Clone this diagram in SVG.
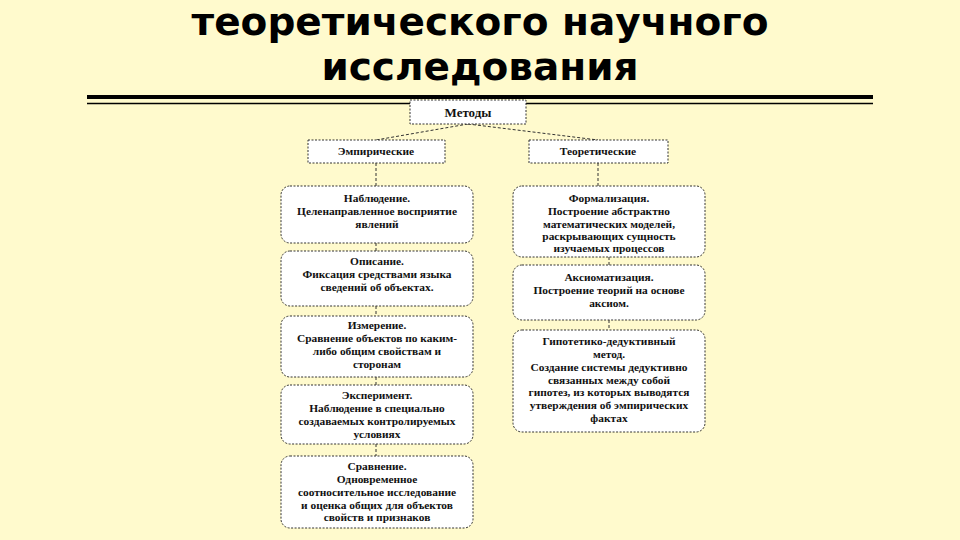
<svg xmlns="http://www.w3.org/2000/svg" width="960" height="540" viewBox="0 0 960 540">
<style>
.title{font-family:"DejaVu Sans",Verdana,sans-serif;font-weight:bold;font-size:39px;fill:#000;text-anchor:middle}
.t{font-family:"Liberation Serif","Times New Roman",serif;font-weight:bold;font-size:11.4px;fill:#111;text-anchor:middle}
.box{fill:#fff;stroke:#333;stroke-width:1;stroke-dasharray:2 1.5}
.rbox{fill:#fff;stroke:#333;stroke-width:1;stroke-dasharray:2 1.5}
.conn{stroke:#333;stroke-width:1;stroke-dasharray:3 2;fill:none}
</style>
<rect width="960" height="540" fill="#FFFACD"/>
<text class="title" x="480" y="35">теоретического научного</text>
<text class="title" x="480" y="80">исследования</text>
<line x1="87" y1="97" x2="873" y2="97" stroke="#000" stroke-width="4"/>
<line x1="87" y1="103.5" x2="873" y2="103.5" stroke="#000" stroke-width="1.5"/>
<g id="connectors">
<path class="conn" d="M468 124 L376 140"/>
<path class="conn" d="M468 124 L598 140"/>
<path class="conn" d="M376 163 V186"/>
<path class="conn" d="M598 163 V186"/>
<path class="conn" d="M376 243 V251"/>
<path class="conn" d="M376 306 V316"/>
<path class="conn" d="M376 377 V385"/>
<path class="conn" d="M376 444 V456"/>
<path class="conn" d="M609 257 V265"/>
<path class="conn" d="M609 320 V330"/>
</g>
<g id="metody">
<rect class="box" x="410" y="100" width="116" height="24"/>
<text class="t" x="468" y="116.5" style="font-size:13px">Методы</text>
</g>
<g id="empiricheskie">
<rect class="box" x="308" y="140" width="137" height="23"/>
<text class="t" x="376" y="155">Эмпирические</text>
</g>
<g id="teoreticheskie">
<rect class="box" x="529" y="140" width="139" height="23"/>
<text class="t" x="598" y="155">Теоретические</text>
</g>
<g id="nabludenie">
<rect class="rbox" x="281" y="186" width="192" height="57" rx="9"/>
<text class="t" x="377" y="202">Наблюдение.</text>
<text class="t" x="377" y="215">Целенаправленное восприятие</text>
<text class="t" x="377" y="228">явлений</text>
</g>
<g id="opisanie">
<rect class="rbox" x="281" y="251" width="192" height="55" rx="9"/>
<text class="t" x="377" y="265">Описание.</text>
<text class="t" x="377" y="278">Фиксация средствами языка</text>
<text class="t" x="377" y="291">сведений об объектах.</text>
</g>
<g id="izmerenie">
<rect class="rbox" x="281" y="316" width="192" height="61" rx="9"/>
<text class="t" x="377" y="329">Измерение.</text>
<text class="t" x="377" y="342">Сравнение объектов по каким-</text>
<text class="t" x="377" y="355">либо общим свойствам и</text>
<text class="t" x="377" y="368">сторонам</text>
</g>
<g id="eksperiment">
<rect class="rbox" x="281" y="385" width="192" height="59" rx="9"/>
<text class="t" x="377" y="399">Эксперимент.</text>
<text class="t" x="377" y="412">Наблюдение в специально</text>
<text class="t" x="377" y="425">создаваемых контролируемых</text>
<text class="t" x="377" y="438">условиях</text>
</g>
<g id="sravnenie">
<rect class="rbox" x="281" y="456" width="192" height="72" rx="9"/>
<text class="t" x="377" y="470">Сравнение.</text>
<text class="t" x="377" y="483">Одновременное</text>
<text class="t" x="377" y="496">соотносительное исследование</text>
<text class="t" x="377" y="509">и оценка общих для объектов</text>
<text class="t" x="377" y="521">свойств и признаков</text>
</g>
<g id="formalizacia">
<rect class="rbox" x="513" y="186" width="192" height="71" rx="9"/>
<text class="t" x="609" y="202">Формализация.</text>
<text class="t" x="609" y="215">Построение абстрактно</text>
<text class="t" x="609" y="228">математических моделей,</text>
<text class="t" x="609" y="240">раскрывающих сущность</text>
<text class="t" x="609" y="252">изучаемых процессов</text>
</g>
<g id="aksiomatizacia">
<rect class="rbox" x="513" y="265" width="192" height="55" rx="9"/>
<text class="t" x="609" y="281">Аксиоматизация.</text>
<text class="t" x="609" y="294">Построение теорий на основе</text>
<text class="t" x="609" y="307">аксиом.</text>
</g>
<g id="gipotetiko">
<rect class="rbox" x="513" y="330" width="192" height="102" rx="9"/>
<text class="t" x="609" y="345">Гипотетико-дедуктивный</text>
<text class="t" x="609" y="358">метод.</text>
<text class="t" x="609" y="371">Создание системы дедуктивно</text>
<text class="t" x="609" y="384">связанных между собой</text>
<text class="t" x="609" y="396">гипотез, из которых выводятся</text>
<text class="t" x="609" y="409">утверждения об эмпирических</text>
<text class="t" x="609" y="422">фактах</text>
</g>
</svg>
